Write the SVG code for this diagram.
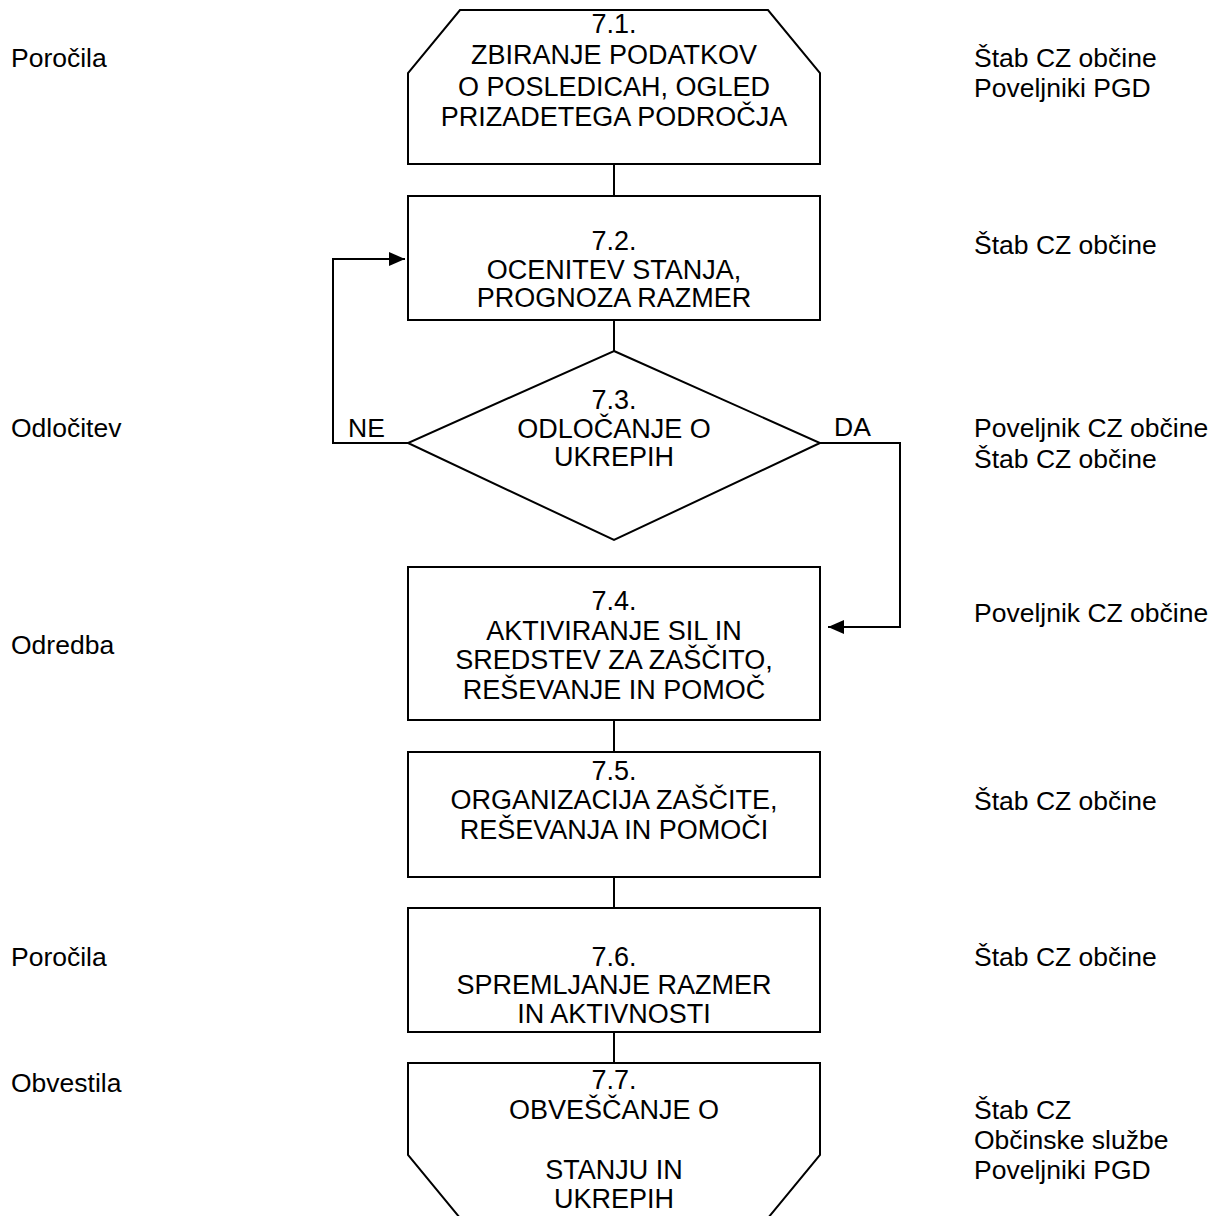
<svg xmlns="http://www.w3.org/2000/svg" width="1215" height="1216" viewBox="0 0 1215 1216">
<style>
.s{fill:#fff;stroke:#000;stroke-width:2}
.c{fill:none;stroke:#000;stroke-width:2}
text{font-family:"Liberation Sans",Arial,sans-serif;font-size:26.5px;fill:#000}
.m{text-anchor:middle;font-size:27px}
</style>
<defs>
<marker id="ah" viewBox="0 0 16 14" refX="16" refY="7" markerWidth="16" markerHeight="14" markerUnits="userSpaceOnUse" orient="auto">
<path d="M0,0 L16,7 L0,14 Z" fill="#000"/>
</marker>
</defs>
<rect width="1215" height="1216" fill="#fff"/>
<g id="connectors">
<line class="c" x1="614" y1="164" x2="614" y2="196"/>
<line class="c" x1="614" y1="320" x2="614" y2="351"/>
<line class="c" x1="614" y1="720" x2="614" y2="752"/>
<line class="c" x1="614" y1="877" x2="614" y2="908"/>
<line class="c" x1="614" y1="1032" x2="614" y2="1063"/>
<polyline class="c" points="408,443 333,443 333,259 405,259" marker-end="url(#ah)"/>
<polyline class="c" points="820,443 900,443 900,627 828,627" marker-end="url(#ah)"/>
<text x="348" y="437">NE</text>
<text x="834" y="436">DA</text>
</g>
<g id="n71">
<polygon class="s" points="460,10 768,10 820,73 820,164 408,164 408,73"/>
<text class="m" x="614" y="33">7.1.</text>
<text class="m" x="614" y="64">ZBIRANJE PODATKOV</text>
<text class="m" x="614" y="96">O POSLEDICAH, OGLED</text>
<text class="m" x="614" y="126">PRIZADETEGA PODROČJA</text>
</g>
<g id="n72">
<rect class="s" x="408" y="196" width="412" height="124"/>
<text class="m" x="614" y="250">7.2.</text>
<text class="m" x="614" y="279">OCENITEV STANJA,</text>
<text class="m" x="614" y="307">PROGNOZA RAZMER</text>
</g>
<g id="n73">
<polygon class="s" points="614,351 820,443 614,540 408,443"/>
<text class="m" x="614" y="409">7.3.</text>
<text class="m" x="614" y="438">ODLOČANJE O</text>
<text class="m" x="614" y="466">UKREPIH</text>
</g>
<g id="n74">
<rect class="s" x="408" y="567" width="412" height="153"/>
<text class="m" x="614" y="610">7.4.</text>
<text class="m" x="614" y="640">AKTIVIRANJE SIL IN</text>
<text class="m" x="614" y="669">SREDSTEV ZA ZAŠČITO,</text>
<text class="m" x="614" y="699">REŠEVANJE IN POMOČ</text>
</g>
<g id="n75">
<rect class="s" x="408" y="752" width="412" height="125"/>
<text class="m" x="614" y="780">7.5.</text>
<text class="m" x="614" y="809">ORGANIZACIJA ZAŠČITE,</text>
<text class="m" x="614" y="839">REŠEVANJA IN POMOČI</text>
</g>
<g id="n76">
<rect class="s" x="408" y="908" width="412" height="124"/>
<text class="m" x="614" y="966">7.6.</text>
<text class="m" x="614" y="994">SPREMLJANJE RAZMER</text>
<text class="m" x="614" y="1023">IN AKTIVNOSTI</text>
</g>
<g id="n77">
<polygon class="s" points="408,1063 820,1063 820,1155 768,1218 460,1218 408,1155"/>
<text class="m" x="614" y="1089">7.7.</text>
<text class="m" x="614" y="1119">OBVEŠČANJE O</text>
<text class="m" x="614" y="1179">STANJU IN</text>
<text class="m" x="614" y="1208">UKREPIH</text>
</g>
<g id="left-labels">
<text x="11" y="67">Poročila</text>
<text x="11" y="437">Odločitev</text>
<text x="11" y="654">Odredba</text>
<text x="11" y="966">Poročila</text>
<text x="11" y="1092">Obvestila</text>
</g>
<g id="right-labels">
<text x="974" y="67">Štab CZ občine</text>
<text x="974" y="97">Poveljniki PGD</text>
<text x="974" y="254">Štab CZ občine</text>
<text x="974" y="437">Poveljnik CZ občine</text>
<text x="974" y="468">Štab CZ občine</text>
<text x="974" y="622">Poveljnik CZ občine</text>
<text x="974" y="810">Štab CZ občine</text>
<text x="974" y="966">Štab CZ občine</text>
<text x="974" y="1119">Štab CZ</text>
<text x="974" y="1149">Občinske službe</text>
<text x="974" y="1179">Poveljniki PGD</text>
</g>
</svg>
